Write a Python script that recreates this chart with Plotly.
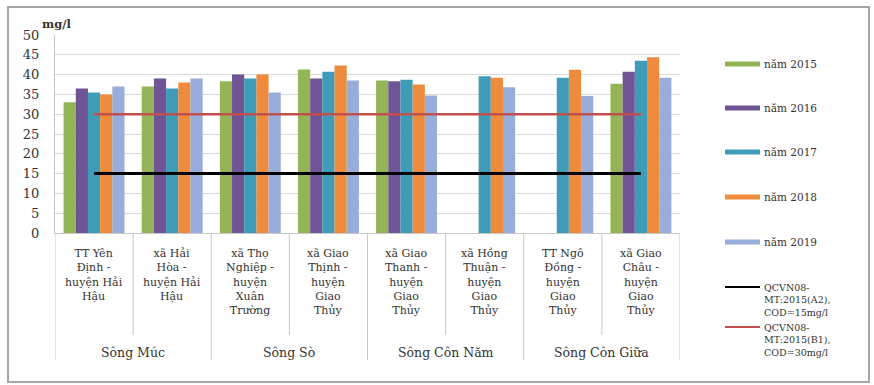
import plotly.graph_objects as go

# Monitoring sites (line-wrapped labels) and the rivers they belong to
sites = [
    "TT Yên<br>Định -<br>huyện Hải<br>Hậu",
    "xã Hải<br>Hòa -<br>huyện Hải<br>Hậu",
    "xã Thọ<br>Nghiệp -<br>huyện<br>Xuân<br>Trường",
    "xã Giao<br>Thịnh -<br>huyện<br>Giao<br>Thủy",
    "xã Giao<br>Thanh -<br>huyện<br>Giao<br>Thủy",
    "xã Hồng<br>Thuận -<br>huyện<br>Giao<br>Thủy",
    "TT Ngô<br>Đồng -<br>huyện<br>Giao<br>Thủy",
    "xã Giao<br>Châu -<br>huyện<br>Giao<br>Thủy",
]
rivers = ["Sông Múc", "Sông Sò", "Sông Côn Năm", "Sông Côn Giữa"]
sites_per_river = [2, 2, 2, 2]

# COD (mg/l) by year
years = ["năm 2015", "năm 2016", "năm 2017", "năm 2018", "năm 2019"]
cod_2015 = [33.0, 37.0, 38.3, 41.3, 38.5, None, None, 37.7]
cod_2016 = [36.5, 39.0, 40.0, 39.0, 38.3, None, None, 40.7]
cod_2017 = [35.5, 36.5, 39.0, 40.7, 38.7, 39.6, 39.2, 43.5]
cod_2018 = [35.0, 38.0, 40.0, 42.3, 37.5, 39.2, 41.2, 44.4]
cod_2019 = [37.0, 39.0, 35.5, 38.5, 34.7, 36.8, 34.6, 39.2]
cod_series = [cod_2015, cod_2016, cod_2017, cod_2018, cod_2019]

# QCVN 08-MT:2015 limits
limit_names = ["QCVN08-<br>MT:2015(A2),<br>COD=15mg/l", "QCVN08-<br>MT:2015(B1),<br>COD=30mg/l"]
limit_values = [15, 30]

bar_colors = ["#93B557", "#6F5596", "#3E9CB8", "#EE8B3D", "#98ADD9"]
limit_colors = ["#000000", "#C0504D"]
limit_widths = [3, 2.5]

FONT = "DejaVu Serif"
TXT = "#333333"

# plot-area geometry in pixels (for paper-coordinate helpers)
W, H = 874, 385
L, R, T, B = 55, 680, 35, 233


def px(x):
    return (x - L) / (R - L)


def py(y):
    return (B - y) / (B - T)


fig = go.Figure()

for name, vals, col in zip(years, cod_series, bar_colors):
    fig.add_trace(go.Bar(x=sites, y=vals, name=name, marker_color=col,
                         marker_line_width=0, showlegend=False))

for name, val, col, lw in zip(limit_names, limit_values, limit_colors, limit_widths):
    fig.add_trace(go.Scatter(x=sites, y=[val] * len(sites), name=name, mode="lines",
                             line=dict(color=col, width=lw), showlegend=False))

shapes = []
annotations = []

# category labels below the axis
for i, lab in enumerate(sites):
    annotations.append(dict(x=i, y=py(245), xref="x", yref="paper",
                            text=lab, showarrow=False, xanchor="center", align="center",
                            yanchor="top", font=dict(family=FONT, size=11, color=TXT)))

# river labels and separators
start = 0
for river, n in zip(rivers, sites_per_river):
    annotations.append(dict(x=start + (n - 1) / 2, y=py(352), xref="x", yref="paper",
                            text=river, showarrow=False, xanchor="center", yanchor="middle",
                            font=dict(family=FONT, size=12.5, color=TXT)))
    start += n

boundaries = set()
acc = 0
for n in sites_per_river:
    boundaries.add(acc)
    acc += n
boundaries.add(acc)
for k in range(len(sites) + 1):
    bottom = 360 if k in boundaries else 335
    shapes.append(dict(type="line", xref="x", yref="paper", x0=k - 0.5, x1=k - 0.5,
                       y0=0, y1=py(bottom), line=dict(color="#c8c8c8", width=1)))

# unit label
annotations.append(dict(x=px(40), y=py(24), xref="paper", yref="paper", text="<b>mg/l</b>",
                        showarrow=False, xanchor="left", yanchor="middle",
                        font=dict(family=FONT, size=11.5, color=TXT)))

# legend drawn at the right
leg_x0, leg_x1, leg_tx = px(725), px(760), px(762)
leg_y = [64, 108, 152, 197, 242]
for name, col, y in zip(years, bar_colors, leg_y):
    shapes.append(dict(type="line", xref="paper", yref="paper", x0=leg_x0, x1=leg_x1,
                       y0=py(y), y1=py(y), line=dict(color=col, width=5)))
    annotations.append(dict(x=leg_tx, y=py(y), xref="paper", yref="paper", text=name,
                            showarrow=False, xanchor="left", yanchor="middle",
                            font=dict(family=FONT, size=10.5, color=TXT)))
for name, col, y in zip(limit_names, limit_colors, [287, 327]):
    shapes.append(dict(type="line", xref="paper", yref="paper", x0=leg_x0, x1=leg_x1,
                       y0=py(y), y1=py(y), line=dict(color=col, width=2)))
    annotations.append(dict(x=leg_tx, y=py(y - 7), xref="paper", yref="paper",
                            text=name, showarrow=False, xanchor="left", align="left",
                            yanchor="top", font=dict(family=FONT, size=9.5, color=TXT)))

# outer frame
shapes.append(dict(type="rect", xref="paper", yref="paper", x0=px(8), x1=px(869),
                   y0=py(382), y1=py(7), line=dict(color="#a6a6a6", width=2)))

fig.update_layout(
    width=W, height=H,
    margin=dict(l=L, r=W - R, t=T, b=H - B, pad=0),
    paper_bgcolor="white", plot_bgcolor="white",
    barmode="group", bargap=0.22, bargroupgap=0,
    showlegend=False,
    font=dict(family=FONT, color=TXT),
    xaxis=dict(type="category", showticklabels=False, showgrid=False, zeroline=False,
               showline=True, linecolor="#c8c8c8", linewidth=1, ticks="",
               range=[-0.5, len(sites) - 0.5]),
    yaxis=dict(range=[0, 50], dtick=5, showgrid=True, gridcolor="#d9d9d9", gridwidth=1,
               zeroline=False, showline=True, linecolor="#c8c8c8", linewidth=1,
               tickfont=dict(family=FONT, size=13, color=TXT), ticklabelstandoff=12),
    shapes=shapes,
    annotations=annotations,
)

fig.write_html("out.html")
